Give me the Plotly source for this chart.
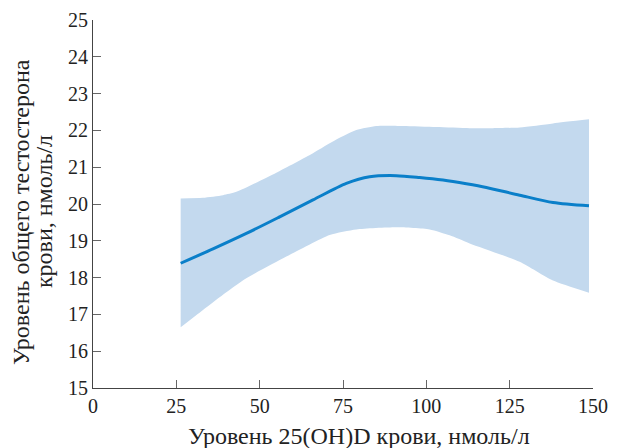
import plotly.graph_objects as go

# Central estimate
line_x = [26.3, 36, 46, 56, 66, 76, 83, 91, 98, 105, 112, 118, 128, 138, 148.8]
line_y = [18.39, 18.78, 19.20, 19.65, 20.11, 20.56, 20.74, 20.77, 20.72, 20.65, 20.55, 20.45, 20.24, 20.04, 19.95]

# Confidence band
upper_x = [26.3, 33, 39, 43, 55, 66, 73, 79, 85, 93, 103, 113, 120, 128, 138, 148.8]
upper_y = [20.15, 20.17, 20.24, 20.33, 20.85, 21.38, 21.75, 22.01, 22.12, 22.12, 22.09, 22.06, 22.06, 22.08, 22.19, 22.30]
lower_x = [26.3, 33, 40, 46, 58, 71, 79, 91, 101, 107, 113, 128, 138, 148.8]
lower_y = [16.65, 17.12, 17.60, 17.98, 18.57, 19.16, 19.31, 19.37, 19.31, 19.15, 18.93, 18.43, 17.92, 17.59]

x_ticks = [0, 25, 50, 75, 100, 125, 150]
y_ticks = [15, 16, 17, 18, 19, 20, 21, 22, 23, 24, 25]

x_title = "Уровень 25(OH)D крови, нмоль/л"
y_title_lines = ["Уровень общего тестостерона", "крови, нмоль/л"]

FONT = "Liberation Serif"
TICK_FS = 20
TITLE_FS = 24

fig = go.Figure()
fig.add_trace(go.Scatter(x=lower_x, y=lower_y, mode="lines",
                         line=dict(width=0, color="#c3d9ee", shape="spline", smoothing=0.6),
                         hoverinfo="skip", showlegend=False))
fig.add_trace(go.Scatter(x=upper_x, y=upper_y, mode="lines", fill="tonexty",
                         fillcolor="#c3d9ee",
                         line=dict(width=0, color="#c3d9ee", shape="spline", smoothing=0.6),
                         hoverinfo="skip", showlegend=False))
fig.add_trace(go.Scatter(x=line_x, y=line_y, mode="lines",
                         line=dict(color="#0a7fc9", width=3, shape="spline", smoothing=0.8),
                         showlegend=False))

# page has an 8px body margin, so the figure is 610x440 placed at (8, 8)
fig.update_layout(
    width=610, height=440,
    margin=dict(l=85, r=25, t=12, b=60, autoexpand=False),
    plot_bgcolor="white", paper_bgcolor="white",
    font=dict(family=FONT, size=TICK_FS, color="#222"),
)
fig.update_xaxes(range=[0, 150], tickvals=x_ticks, showgrid=False, zeroline=False,
                 automargin=False,
                 showline=True, linecolor="#444", linewidth=1,
                 ticks="inside", ticklen=8, tickcolor="#666",
                 tickfont=dict(family=FONT, size=TICK_FS, color="#222"))
fig.update_yaxes(range=[15, 25], tickvals=y_ticks, showgrid=False, zeroline=False,
                 automargin=False,
                 showline=True, linecolor="#444", linewidth=1,
                 ticks="inside", ticklen=8, tickcolor="#666",
                 tickfont=dict(family=FONT, size=TICK_FS, color="#222"))

fig.add_annotation(text=x_title, xref="paper", yref="paper", x=0.532, y=-0.13,
                   xanchor="center", yanchor="middle", showarrow=False,
                   font=dict(family=FONT, size=TITLE_FS, color="#222"))
fig.add_annotation(text=y_title_lines[0], xref="paper", yref="paper", x=-0.144, y=0.478,
                   xanchor="center", yanchor="middle", textangle=-90, showarrow=False,
                   font=dict(family=FONT, size=TITLE_FS, color="#222"))
fig.add_annotation(text=y_title_lines[1], xref="paper", yref="paper", x=-0.098, y=0.478,
                   xanchor="center", yanchor="middle", textangle=-90, showarrow=False,
                   font=dict(family=FONT, size=TITLE_FS, color="#222"))

fig.write_html("out.html")
